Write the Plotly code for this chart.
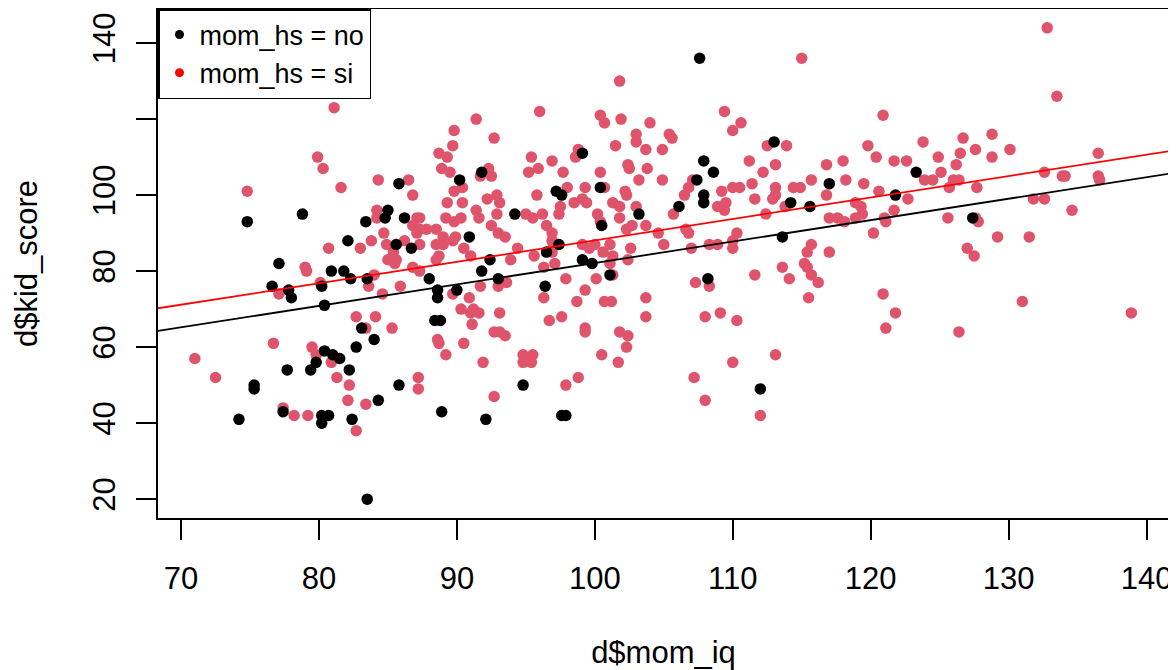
import plotly.graph_objects as go

# ---- data ----
# mom_hs = no (black)
no_iq = [85.8, 78.8, 74.8, 85.0, 84.8, 83.4, 86.2, 82.1, 85.6, 86.7,
         77.1, 80.9, 81.8, 82.3, 83.5, 76.6, 77.8, 78.0, 80.2, 80.4,
         83.1, 84.0, 82.7, 80.4, 81.0, 81.5, 79.8, 79.4, 82.2, 77.7,
         75.3, 75.3, 85.8, 84.3, 77.4, 80.2, 80.7, 80.2, 82.4, 74.2,
         83.5,
         99.1, 91.8, 90.2, 97.2, 97.6, 100.4, 94.2, 103.2, 100.5, 90.9,
         92.4, 96.5, 97.4, 99.1, 99.8, 91.8,
         88.0, 88.6, 88.6, 90.0, 93.0, 88.4, 88.8, 94.8, 88.9, 92.1,
         97.6, 97.9, 96.4, 101.1,
         107.6, 113.0, 107.9, 108.6, 123.3, 107.4, 117.0, 107.9, 107.9, 114.2,
         115.6, 121.8, 106.1, 113.6, 108.2, 112.0, 127.4]
no_score = [103, 95, 93, 96, 94, 93, 94, 88, 87, 86,
            82, 80, 80, 78, 78, 76, 75, 73, 76, 71,
            65, 62, 60, 59, 58, 57, 56, 54, 54, 54,
            50, 49, 50, 46, 43, 42, 42, 40, 41, 41,
            20,
            111, 106, 104, 101, 100, 102, 95, 95, 92, 89,
            83, 85, 87, 83, 82, 80,
            78, 75, 73, 75, 78, 67, 67, 50, 43, 41,
            42, 42, 76, 79,
            136, 114, 109, 106, 106, 104, 103, 100, 98, 98,
            97, 100, 97, 89, 78, 49, 94]

# mom_hs = si (red)
si_iq = [81.1, 79.9, 80.3, 74.8, 81.6, 84.3, 86.5, 86.8, 84.2, 84.2,
         87.1, 84.7, 83.8, 86.2, 84.9, 80.7, 83.0, 85.4, 85.6, 85.0,
         85.5, 79.0,
         79.1, 84.0, 83.6, 85.9, 84.6, 86.8, 87.3, 77.1, 80.1, 82.7,
         84.1, 83.4, 85.3, 76.7, 79.5, 79.8, 71.0, 72.5, 80.9, 81.3,
         82.2, 87.2, 87.2, 82.1, 83.4, 77.4, 78.2, 79.2, 82.7,
         101.8, 96.0, 91.4, 100.4, 100.7, 101.9, 104.0, 89.8, 92.7, 103.0,
         103.0, 105.4, 89.7, 101.5, 103.7, 104.9, 88.7, 89.3, 98.8, 98.6,
         95.4, 96.9, 102.4, 102.5, 88.9, 89.5, 92.3, 92.5, 91.7, 95.9,
         95.2, 97.7, 100.4, 103.8, 90.4, 89.8, 103.2, 104.9, 98.0, 100.7,
         99.3, 95.8, 102.2, 102.3, 92.2, 92.9, 93.1, 89.3, 90.4, 98.5,
         99.1, 99.4, 101.3, 101.8, 97.5, 97.4, 95.0, 95.5, 96.2, 91.4,
         91.6, 92.9, 103.0, 100.2, 100.4, 101.8, 96.5, 96.9, 96.9, 87.3,
         86.8, 87.3, 87.8, 88.5, 89.2, 89.8, 90.3, 92.5, 93.0, 93.5,
         89.0, 89.7, 89.9, 87.1, 87.3, 88.5, 89.0, 88.7, 88.5, 90.5,
         91.0, 94.4, 95.6, 93.9, 97.0, 96.9, 99.1, 99.6, 100.0, 101.1,
         100.6, 101.3, 102.6, 102.7, 102.3, 103.7, 104.6, 105.0, 102.4, 101.1,
         89.7, 93.0, 93.6, 91.7, 90.9, 90.3, 91.2, 91.6, 91.0, 91.1,
         93.1, 88.6, 88.7, 90.5, 89.2, 92.7, 93.1, 93.5, 91.9, 94.8,
         95.5, 94.8, 95.4, 92.7, 97.9, 98.8, 96.3, 97.1, 96.3, 97.9,
         99.3, 98.7, 100.1, 101.3, 100.7, 101.2, 103.7, 103.7, 97.6, 96.7,
         99.3, 99.3, 101.8, 102.4, 102.3, 100.5, 101.7,
         115.0, 109.4, 110.6, 110.0, 120.9, 105.6, 112.5, 113.9, 119.8, 120.4,
         123.8, 111.2, 113.1, 112.2, 116.8, 118.0, 121.7, 122.6, 107.1, 106.8,
         106.5, 110.0, 110.5, 111.4, 115.7, 118.2, 119.5, 109.2, 113.1, 113.1,
         112.9, 114.4, 114.9, 111.6, 116.8, 120.6, 122.7, 105.7, 108.9, 109.5,
         109.4, 113.8, 118.9, 119.3, 119.4, 118.9, 112.4, 117.0, 117.6, 118.1,
         121.0, 121.1, 121.7, 106.6, 106.8, 110.3, 110.0, 120.2, 107.0, 108.3,
         108.9, 110.0, 115.7, 115.4, 117.0, 115.2, 115.4, 113.6,
         107.3, 108.3, 111.6, 114.1, 115.7, 116.2, 115.5, 120.9, 121.8, 121.1,
         108.0, 109.1, 110.3, 113.1, 110.0, 107.2, 108.0, 112.0,
         132.8, 133.5, 126.7, 128.8, 130.1, 127.6, 126.5, 124.9, 128.8, 136.5,
         126.2, 125.1, 123.9, 124.5, 126.0, 126.4, 125.7, 127.7, 132.6, 133.9,
         134.1, 136.5, 136.6, 131.8, 132.6, 134.6, 125.6, 127.6, 127.8, 129.2,
         131.5, 127.0, 127.5, 131.0, 126.4, 138.9]
si_score = [123, 110, 107, 101, 102, 104, 104, 100, 96, 94,
            94, 90, 88, 88, 87, 86, 86, 85, 83, 83,
            82, 81,
            80, 79, 76, 76, 74, 81, 80, 74, 77, 68,
            68, 65, 65, 61, 60, 58, 57, 52, 56, 52,
            50, 52, 49, 46, 45, 44, 42, 42, 38,
            130, 122, 120, 121, 119, 120, 119, 117, 115, 116,
            114, 116, 113, 113, 112, 112, 111, 110, 112, 110,
            110, 109, 108, 107, 107, 106, 107, 105, 105, 107,
            106, 106, 106, 107, 102, 101, 104, 104, 102, 102,
            102, 100, 101, 100, 99, 100, 98, 98, 98, 98,
            99, 98, 98, 97, 97, 95, 95, 94, 95, 96,
            94, 95, 97, 95, 93, 94, 92, 90, 88, 94,
            92, 91, 91, 91, 94, 93, 94, 92, 90, 89,
            89, 88, 89, 90, 87, 87, 87, 84, 83, 86,
            84, 86, 84, 83, 87, 85, 87, 86, 87, 87,
            85, 84, 86, 92, 91, 92, 90, 87, 83, 82,
            74, 76, 77, 76, 73, 70, 70, 69, 69, 66,
            69, 62, 61, 61, 58, 64, 64, 63, 56, 58,
            58, 56, 56, 47, 50, 52, 81, 82, 73, 78,
            75, 72, 78, 79, 72, 72, 73, 68, 68, 67,
            65, 64, 64, 63, 60, 58, 56,
            136, 122, 119, 117, 121, 115, 113, 113, 113, 110,
            114, 109, 108, 106, 108, 109, 109, 109, 104, 102,
            100, 102, 102, 103, 104, 104, 103, 101, 102, 100,
            99, 102, 102, 99, 100, 101, 99, 95, 97, 98,
            96, 97, 98, 97, 95, 94, 95, 94, 94, 93,
            94, 93, 96, 91, 90, 90, 88, 90, 86, 87,
            87, 86, 87, 85, 85, 82, 81, 81,
            77, 76, 79, 78, 79, 77, 73, 74, 69, 65,
            68, 69, 67, 58, 56, 52, 46, 42,
            144, 126, 115, 116, 112, 112, 111, 110, 110, 111,
            108, 106, 104, 104, 104, 104, 102, 102, 106, 105,
            105, 105, 104, 99, 99, 96, 94, 94, 93, 89,
            89, 86, 84, 72, 64, 69]

# fitted model kid_score ~ mom_iq + mom_hs
b0 = 25.73
b_iq = 0.564
b_hs = 5.95

x_range = [68.33, 141.63]
y_range = [15.04, 148.96]
x_ticks = [70, 80, 90, 100, 110, 120, 130, 140]
y_ticks = [20, 40, 60, 80, 100, 120, 140]
y_ticktext = ["20", "40", "60", "80", "100", "", "140"]

RED_PT = "#DF536B"
FONT = "Liberation Sans, Arial, Helvetica, sans-serif"

fig = go.Figure()

fig.add_trace(go.Scatter(x=si_iq, y=si_score, mode="markers",
                         marker=dict(color=RED_PT, size=11.5, line=dict(width=0)),
                         showlegend=False, hoverinfo="skip"))
fig.add_trace(go.Scatter(x=no_iq, y=no_score, mode="markers",
                         marker=dict(color="black", size=11.5, line=dict(width=0)),
                         showlegend=False, hoverinfo="skip"))

fig.add_trace(go.Scatter(x=x_range, y=[b0 + b_iq * v for v in x_range], mode="lines",
                         line=dict(color="black", width=1.8), showlegend=False, hoverinfo="skip"))
fig.add_trace(go.Scatter(x=x_range, y=[b0 + b_hs + b_iq * v for v in x_range], mode="lines",
                         line=dict(color="#FF0000", width=1.8), showlegend=False, hoverinfo="skip"))

# legend entries
fig.add_trace(go.Scatter(x=[None], y=[None], mode="markers", name="mom_hs = no",
                         marker=dict(color="black", size=9)))
fig.add_trace(go.Scatter(x=[None], y=[None], mode="markers", name="mom_hs = si",
                         marker=dict(color="#FF0000", size=9)))

axis_common = dict(showline=True, linecolor="black", linewidth=1.5, mirror=True,
                   ticks="outside", ticklen=20, tickwidth=1.5, tickcolor="black",
                   showgrid=False, zeroline=False, automargin=False,
                   tickfont=dict(family=FONT, size=31, color="black"))

# the page body adds an 8px offset, so the figure is sized to the remaining area
fig.update_layout(
    width=1168, height=662, autosize=False,
    margin=dict(l=150, r=7, t=1, b=152),
    paper_bgcolor="white", plot_bgcolor="white",
    font=dict(family=FONT, color="black"),
    xaxis=dict(range=x_range, tickmode="array", tickvals=x_ticks,
               ticklabelstandoff=12,
               title=dict(text="d$mom_iq", font=dict(family=FONT, size=31), standoff=50),
               **axis_common),
    yaxis=dict(range=y_range, tickmode="array", tickvals=y_ticks, ticktext=y_ticktext,
               tickangle=-90, ticklabelstandoff=9,
               title=dict(text="d$kid_score", font=dict(family=FONT, size=31), standoff=40),
               **axis_common),
    legend=dict(x=0, y=1, xanchor="left", yanchor="top",
                bordercolor="black", borderwidth=1.5, bgcolor="white",
                font=dict(family=FONT, size=27, color="black"),
                itemsizing="trace"),
)

fig.write_html("out.html")
